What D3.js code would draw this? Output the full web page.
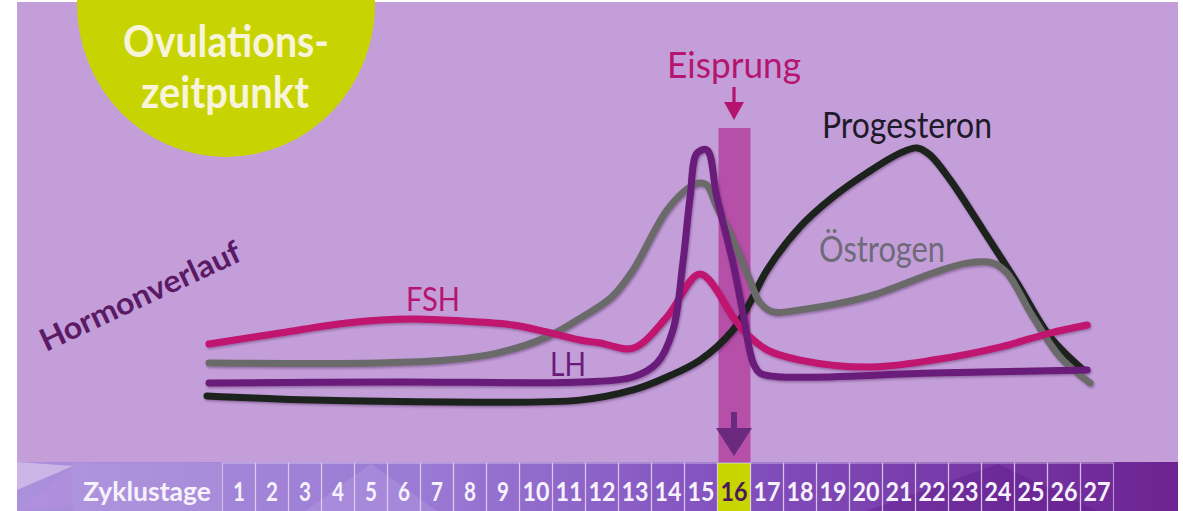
<!DOCTYPE html>
<html lang="de">
<head>
<meta charset="utf-8">
<script src="https://cdn.jsdelivr.net/npm/d3@7"></script>
<style>
  html, body { margin: 0; padding: 0; background: #ffffff; }
  svg { display: block; }
  text { font-family: Lato, "Open Sans", "Noto Sans", sans-serif; }
</style>
</head>
<body>
<svg id="chart" width="1183" height="511"></svg>
<script>
// Zyklustage (cycle days) shown in the bottom strip
const cycleDays = d3.range(1, 28);
const ovulationDay = 16;

// Hormone curves: [day, relative level 0..100]
const fshDays   = [0.09, 2.24, 4.27, 6.27, 7.79, 9.30, 10.33, 11.33, 11.94, 12.94, 13.97, 14.97, 15.97, 16.27, 17.0, 18.0, 20.03, 22.03, 24.06, 25.58, 26.7];
const fshLevels = [25.4, 29.6, 33.5, 35.0, 34.2, 32.7, 30.0, 26.9, 25.8, 23.8, 35.8, 52.3, 35.8, 30.8, 23.1, 19.2, 16.5, 19.2, 24.2, 29.6, 32.7];

const estDays   = [0.09, 5.27, 7.30, 8.82, 10.33, 11.33, 12.3, 12.94, 13.97, 14.67, 14.97, 15.18, 15.48, 15.97, 16.48, 16.79, 17.18, 18.0, 20.03, 22.03, 23.06, 23.85, 24.27, 25.06, 25.88, 26.79];
const estLevels = [18.1, 18.1, 19.2, 21.9, 28.1, 35.2, 43.5, 53.8, 76.9, 85.8, 87.3, 86.5, 78.1, 65.4, 50.0, 41.2, 37.7, 38.5, 43.5, 52.7, 56.5, 56.5, 52.7, 35.8, 20.4, 10.4];

const lhDays    = [0.09, 5.88, 11.33, 12.94, 13.67, 14.15, 14.45, 14.67, 14.88, 15.18, 15.48, 15.97, 16.27, 16.58, 16.79, 17.48, 22.03, 26.7];
const lhLevels  = [10.4, 10.8, 10.8, 12.7, 18.1, 30.8, 56.5, 81.9, 98.8, 100, 81.9, 56.5, 37.3, 18.1, 14.2, 12.7, 14.2, 15.4];

const progDays   = [0.03, 3.24, 7.30, 11.33, 12.94, 13.97, 14.97, 15.97, 16.48, 17.0, 18.0, 19.0, 20.03, 21.03, 21.55, 21.94, 22.55, 23.55, 24.58, 25.58, 26.58];
const progLevels = [5.4, 3.8, 3.1, 3.8, 7.7, 12.7, 19.2, 30.8, 41.2, 53.8, 70.4, 81.9, 91.2, 98.8, 100.8, 98.1, 88.5, 69.2, 48.8, 28.1, 15.4];

const hormoneNames  = ["FSH", "Östrogen", "LH", "Progesteron"];
const hormoneColors = ["#c0126f", "#6b6b6b", "#6a1b7a", "#1b211c"];

const svg = d3.select("#chart");
const W = 1183, H = 511;
const padL = 17, padR = 1178, padT = 2;
const stripTop = 462;

const x = d3.scaleLinear().domain([1, 27]).range([239, 1097]);
const y = d3.scaleLinear().domain([0, 100]).range([410, 150]);
const cellW = x(2) - x(1);

const defs = svg.append("defs");
const shadow = defs.append("filter").attr("id", "soft").attr("x", "-5%").attr("y", "-20%").attr("width", "110%").attr("height", "140%");
shadow.append("feDropShadow").attr("dx", 1).attr("dy", 1.5).attr("stdDeviation", 1.3)
  .attr("flood-color", "#2a0a30").attr("flood-opacity", 0.35);

const bandGrad = defs.append("linearGradient").attr("id", "band").attr("x1", 0).attr("x2", 1).attr("y1", 0).attr("y2", 0);
bandGrad.append("stop").attr("offset", "0%").attr("stop-color", "#ab90dc");
bandGrad.append("stop").attr("offset", "35%").attr("stop-color", "#9a7ad4");
bandGrad.append("stop").attr("offset", "60%").attr("stop-color", "#8352bf");
bandGrad.append("stop").attr("offset", "100%").attr("stop-color", "#6d2392");

// background
svg.append("rect").attr("x", padL).attr("y", padT).attr("width", padR - padL).attr("height", H - padT)
  .attr("fill", "#c49ed9");

// "Ovulationszeitpunkt" badge
svg.append("ellipse").attr("cx", 226).attr("cy", 4).attr("rx", 149).attr("ry", 153).attr("fill", "#c8d401");
const badge = svg.append("g").attr("fill", "#f7f4da").attr("font-weight", 700).attr("text-anchor", "middle");
badge.append("text").attr("x", 226).attr("y", 57).attr("font-size", 44)
  .attr("textLength", 206).attr("lengthAdjust", "spacingAndGlyphs").text("Ovulations-");
badge.append("text").attr("x", 225).attr("y", 108).attr("font-size", 44)
  .attr("textLength", 168).attr("lengthAdjust", "spacingAndGlyphs").text("zeitpunkt");

// bottom strip with cycle days
svg.append("rect").attr("x", padL).attr("y", stripTop).attr("width", padR - padL).attr("height", H - stripTop)
  .attr("fill", "url(#band)");
svg.append("path").attr("d", `M${padL},${stripTop} L${padL + 56},${stripTop + 4} L${padL},${stripTop + 28} Z`)
  .attr("fill", "#d9c6ec").attr("opacity", 0.7);
svg.append("path").attr("d", `M${padL},${H} L${padL + 56},${H - 6} L${padL + 56},${stripTop + 4} Z`)
  .attr("fill", "#b58fe0").attr("opacity", 0.5);
svg.append("path").attr("d", `M${x(3)},${H} L${x(5)},${stripTop + 2} L${x(7)},${H} Z`)
  .attr("fill", "#b9a0e6").attr("opacity", 0.35);
svg.append("path").attr("d", `M${x(20)},${H} L${x(24)},${stripTop + 2} L${x(27)},${H} Z`)
  .attr("fill", "#5e1585").attr("opacity", 0.35);

const firstCell = x(1) - cellW / 2;
svg.append("rect").attr("x", 73).attr("y", stripTop + 1).attr("width", firstCell - 73).attr("height", H - stripTop)
  .attr("fill", "#ffffff").attr("opacity", 0.06).attr("stroke", "#e6dbf2").attr("stroke-opacity", 0.7).attr("stroke-width", 1.2);

const cells = svg.append("g");
cells.selectAll("rect").data(cycleDays).join("rect")
  .attr("x", d => x(d) - cellW / 2).attr("y", stripTop + 1)
  .attr("width", cellW).attr("height", H - stripTop)
  .attr("fill", d => d === ovulationDay ? "#c8d500" : "none")
  .attr("stroke", "#e6dbf2").attr("stroke-opacity", 0.6).attr("stroke-width", 1.2);

svg.append("text").attr("x", 147).attr("y", 501).attr("text-anchor", "middle")
  .attr("font-size", 27).attr("font-weight", 700).attr("fill", "#f6f1fb")
  .attr("textLength", 128).attr("lengthAdjust", "spacingAndGlyphs").text("Zyklustage");
cells.selectAll("text").data(cycleDays).join("text")
  .attr("x", d => x(d)).attr("y", 501).attr("text-anchor", "middle")
  .attr("font-size", 27).attr("font-weight", 700)
  .attr("fill", d => d === ovulationDay ? "#4c1a58" : "#f6f1fb")
  .attr("textLength", d => d < 10 ? 12 : 27).attr("lengthAdjust", "spacingAndGlyphs")
  .text(d => d);

// ovulation marker bar
const ox = x(ovulationDay);
svg.append("rect").attr("x", ox - cellW / 2 + 1).attr("y", 128).attr("width", cellW - 1).attr("height", stripTop - 128)
  .attr("fill", "#b64fa7");
svg.append("path")
  .attr("d", `M${ox - 3},412 L${ox + 3},412 L${ox + 3},428 L${ox + 18},428 L${ox},456 L${ox - 18},428 L${ox - 3},428 Z`)
  .attr("fill", "#6b2a7f");
svg.append("path")
  .attr("d", `M${ox - 1.6},87 L${ox + 1.6},87 L${ox + 1.6},102 L${ox + 10},102 L${ox},120 L${ox - 10},102 L${ox - 1.6},102 Z`)
  .attr("fill", "#b5156f");
svg.append("text").attr("x", ox).attr("y", 78).attr("text-anchor", "middle")
  .attr("font-size", 36).attr("fill", "#b5156f")
  .attr("textLength", 134).attr("lengthAdjust", "spacingAndGlyphs").text("Eisprung");

// hormone curves
const series = [
  { days: fshDays, levels: fshLevels },
  { days: estDays, levels: estLevels },
  { days: lhDays, levels: lhLevels },
  { days: progDays, levels: progLevels }
];
const line = d3.line().x(p => x(p[0])).y(p => y(p[1])).curve(d3.curveCatmullRom.alpha(0.5));
const drawOrder = [3, 1, 0, 2];
svg.append("g").attr("filter", "url(#soft)")
  .selectAll("path").data(drawOrder).join("path")
  .attr("d", i => line(d3.zip(series[i].days, series[i].levels)))
  .attr("fill", "none").attr("stroke", i => hormoneColors[i])
  .attr("stroke-width", 7).attr("stroke-linecap", "round").attr("stroke-linejoin", "round");

// curve labels
const labels = [
  { i: 0, x: 433, y: 311, size: 32, len: 54 },
  { i: 1, x: 882, y: 262, size: 36, len: 126 },
  { i: 2, x: 568, y: 376, size: 32, len: 36 },
  { i: 3, x: 907, y: 138, size: 36, len: 170 }
];
const labelColors = ["#b5156f", "#6e6a78", "#6a1b7a", "#1e1a2a"];
svg.append("g").selectAll("text").data(labels).join("text")
  .attr("x", d => d.x).attr("y", d => d.y).attr("text-anchor", "middle")
  .attr("font-size", d => d.size).attr("fill", d => labelColors[d.i])
  .attr("textLength", d => d.len).attr("lengthAdjust", "spacingAndGlyphs")
  .text(d => hormoneNames[d.i]);

// axis caption
svg.append("text").attr("transform", "translate(46,352) rotate(-25)")
  .attr("font-size", 31).attr("font-weight", 700).attr("fill", "#5b1a66")
  .attr("textLength", 218).attr("lengthAdjust", "spacingAndGlyphs").text("Hormonverlauf");
</script>
</body>
</html>
